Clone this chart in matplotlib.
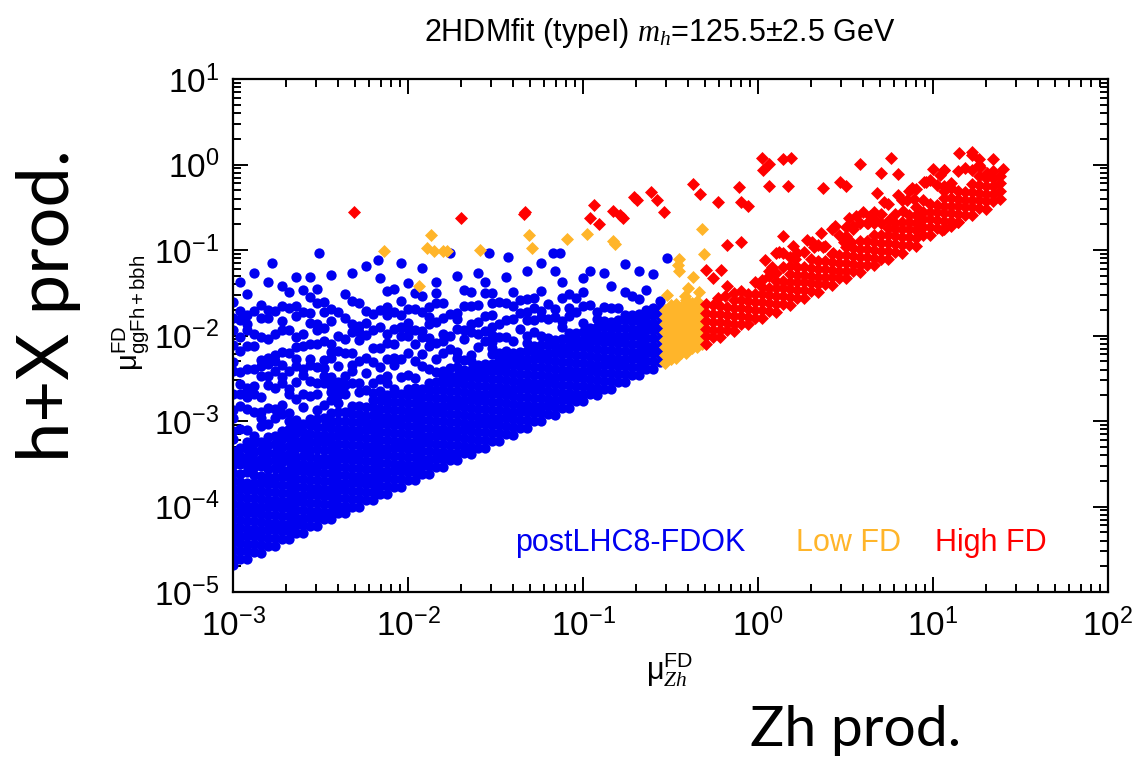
import numpy as np
import matplotlib
matplotlib.use('Agg')
import matplotlib.pyplot as plt
from matplotlib.ticker import LogLocator, NullFormatter

plt.rcParams['font.family'] = ['Liberation Sans', 'DejaVu Sans']
plt.rcParams['mathtext.fontset'] = 'custom'
plt.rcParams['mathtext.rm'] = 'Liberation Sans'
plt.rcParams['mathtext.it'] = 'Liberation Serif:italic'
plt.rcParams['mathtext.bf'] = 'Liberation Sans:bold'

# all values are log10(mu)
# postLHC8-FDOK (blue)
blue_log_zh = [-3.00, -2.96, -2.92, -2.88, -2.84, -2.80, -2.76, -2.72, -2.68, -2.64,
               -2.60, -2.56, -2.52, -2.48, -2.44, -2.40, -2.36, -2.32, -2.28, -2.24,
               -2.20, -2.16, -2.12, -2.08, -2.04, -2.00, -1.96, -1.92, -1.88, -1.84,
               -1.80, -1.76, -1.72, -1.68, -1.64, -1.60, -1.56, -1.52, -1.48, -1.44,
               -1.40, -1.36, -1.32, -1.28, -1.24, -1.20, -1.16, -1.12, -1.08, -1.04,
               -1.00, -0.96, -0.92, -0.88, -0.84, -0.80, -0.76, -0.72, -0.68, -0.64,
               -0.60, -0.56]
blue_log_gg = [
    [-4.69, -4.60, -4.51, -4.42, -4.33, -4.24, -4.15, -4.06, -3.97, -3.88, -3.79, -3.70, -3.61, -3.52, -3.43, -3.35, -3.21, -3.12, -2.96, -2.87, -2.69, -2.42, -2.31, -2.11, -1.93, -1.79, -1.61],
    [-4.61, -4.52, -4.43, -4.34, -4.25, -4.16, -4.07, -3.98, -3.89, -3.80, -3.71, -3.62, -3.50, -3.41, -3.31, -3.09, -2.82, -2.68, -2.57, -2.43, -2.18, -2.02, -1.82, -1.71, -1.38],
    [-4.61, -4.52, -4.44, -4.35, -4.26, -4.17, -4.08, -3.99, -3.90, -3.81, -3.72, -3.60, -3.52, -3.43, -3.33, -3.25, -3.11, -2.86, -2.72, -2.61, -2.39, -2.12, -1.94, -1.87, -1.76, -1.51],
    [-4.53, -4.44, -4.35, -4.26, -4.17, -4.08, -3.99, -3.90, -3.81, -3.72, -3.63, -3.54, -3.46, -3.36, -3.26, -3.17, -2.90, -2.68, -2.59, -2.39, -2.12, -1.98, -1.71, -1.27],
    [-4.54, -4.45, -4.36, -4.27, -4.18, -4.09, -4.00, -3.91, -3.82, -3.73, -3.64, -3.53, -3.44, -3.34, -3.24, -3.06, -2.97, -2.90, -2.72, -2.47, -2.36, -2.29, -2.02, -1.80, -1.64],
    [-4.46, -4.37, -4.28, -4.19, -4.10, -4.01, -3.92, -3.83, -3.74, -3.65, -3.56, -3.47, -3.37, -3.28, -3.19, -3.03, -2.85, -2.58, -2.47, -2.33, -2.26, -2.04, -1.79, -1.70, -1.37],
    [-4.46, -4.37, -4.28, -4.19, -4.10, -4.01, -3.92, -3.83, -3.74, -3.65, -3.55, -3.46, -3.38, -3.27, -3.17, -2.97, -2.86, -2.61, -2.41, -2.30, -2.23, -1.98, -1.71],
    [-4.38, -4.29, -4.20, -4.11, -4.02, -3.93, -3.84, -3.75, -3.66, -3.57, -3.48, -3.40, -3.30, -3.21, -3.12, -2.92, -2.81, -2.56, -2.49, -2.35, -2.19, -1.94, -1.83, -1.65, -1.42],
    [-4.38, -4.29, -4.20, -4.11, -4.02, -3.93, -3.84, -3.75, -3.66, -3.57, -3.47, -3.39, -3.29, -3.19, -3.09, -3.00, -2.91, -2.69, -2.62, -2.42, -2.20, -1.93, -1.68, -1.49],
    [-4.31, -4.22, -4.13, -4.04, -3.95, -3.86, -3.77, -3.68, -3.59, -3.50, -3.42, -3.32, -3.24, -3.14, -3.06, -2.99, -2.74, -2.54, -2.36, -2.27, -2.13, -2.02, -1.77, -1.66, -1.31],
    [-4.31, -4.22, -4.13, -4.04, -3.95, -3.86, -3.77, -3.68, -3.59, -3.50, -3.41, -3.31, -3.22, -3.13, -3.04, -2.84, -2.68, -2.46, -2.39, -2.12, -1.98, -1.73, -1.47],
    [-4.23, -4.14, -4.05, -3.96, -3.87, -3.78, -3.69, -3.60, -3.51, -3.42, -3.34, -3.24, -3.15, -3.05, -2.98, -2.71, -2.53, -2.35, -2.28, -2.10, -1.85, -1.74, -1.55, -1.32],
    [-4.23, -4.14, -4.05, -3.96, -3.87, -3.78, -3.69, -3.60, -3.51, -3.43, -3.33, -3.24, -3.16, -3.07, -2.98, -2.87, -2.69, -2.55, -2.37, -2.10, -1.94, -1.87, -1.62, -1.46],
    [-4.15, -4.06, -3.97, -3.88, -3.79, -3.70, -3.61, -3.52, -3.43, -3.34, -3.25, -3.16, -3.07, -2.97, -2.81, -2.56, -2.47, -2.38, -2.29, -2.07, -1.91, -1.73, -1.61],
    [-4.15, -4.06, -3.97, -3.88, -3.79, -3.70, -3.61, -3.52, -3.43, -3.34, -3.26, -3.17, -3.08, -3.00, -2.91, -2.75, -2.66, -2.59, -2.48, -2.26, -2.19, -2.10, -1.83, -1.69, -1.29],
    [-4.08, -3.99, -3.90, -3.81, -3.72, -3.63, -3.54, -3.45, -3.36, -3.27, -3.18, -3.09, -3.00, -2.90, -2.79, -2.70, -2.61, -2.54, -2.36, -2.18, -2.00, -1.73],
    [-4.08, -3.99, -3.90, -3.81, -3.72, -3.63, -3.54, -3.45, -3.36, -3.27, -3.18, -3.09, -3.00, -2.89, -2.69, -2.58, -2.47, -2.20, -2.04, -1.79, -1.52],
    [-4.00, -3.91, -3.82, -3.73, -3.64, -3.55, -3.46, -3.37, -3.28, -3.19, -3.10, -3.01, -2.92, -2.83, -2.56, -2.42, -2.35, -2.21, -1.96, -1.87, -1.60, -1.27],
    [-4.00, -3.91, -3.82, -3.73, -3.64, -3.55, -3.46, -3.37, -3.28, -3.19, -3.10, -3.01, -2.92, -2.82, -2.66, -2.55, -2.30, -2.05, -1.96, -1.89, -1.62],
    [-3.92, -3.83, -3.74, -3.65, -3.56, -3.47, -3.38, -3.29, -3.20, -3.11, -3.02, -2.94, -2.84, -2.64, -2.44, -2.26, -1.99, -1.85, -1.71, -1.19],
    [-3.92, -3.83, -3.74, -3.65, -3.56, -3.47, -3.38, -3.29, -3.20, -3.11, -3.02, -2.93, -2.84, -2.76, -2.67, -2.56, -2.31, -2.15, -1.93, -1.75],
    [-3.85, -3.76, -3.67, -3.58, -3.49, -3.40, -3.31, -3.22, -3.13, -3.04, -2.95, -2.86, -2.76, -2.65, -2.51, -2.37, -2.15, -1.90, -1.70, -1.33],
    [-3.85, -3.76, -3.67, -3.58, -3.49, -3.40, -3.31, -3.22, -3.13, -3.04, -2.95, -2.86, -2.78, -2.70, -2.56, -2.47, -2.27, -2.09, -1.98, -1.76, -1.67, -1.48],
    [-3.77, -3.68, -3.59, -3.50, -3.41, -3.32, -3.23, -3.14, -3.05, -2.96, -2.87, -2.78, -2.69, -2.62, -2.35, -2.26, -2.10, -1.92, -1.72, -1.46],
    [-3.77, -3.68, -3.59, -3.50, -3.41, -3.32, -3.23, -3.14, -3.05, -2.96, -2.87, -2.78, -2.68, -2.48, -2.28, -2.01, -1.90, -1.76, -1.60],
    [-3.69, -3.60, -3.51, -3.42, -3.33, -3.24, -3.15, -3.06, -2.97, -2.88, -2.79, -2.70, -2.62, -2.46, -2.21, -2.01, -1.92, -1.85, -1.69, -1.39],
    [-3.69, -3.60, -3.51, -3.42, -3.33, -3.24, -3.15, -3.06, -2.97, -2.88, -2.79, -2.70, -2.61, -2.50, -2.30, -2.10, -1.94, -1.69, -1.50],
    [-3.62, -3.53, -3.44, -3.35, -3.26, -3.17, -3.08, -2.99, -2.90, -2.81, -2.72, -2.63, -2.36, -2.22, -2.02, -1.95, -1.73, -1.54, -1.21],
    [-3.62, -3.53, -3.44, -3.35, -3.26, -3.17, -3.08, -2.99, -2.90, -2.81, -2.72, -2.64, -2.55, -2.39, -2.12, -2.03, -1.87, -1.78, -1.67],
    [-3.54, -3.45, -3.36, -3.27, -3.18, -3.09, -3.00, -2.91, -2.82, -2.73, -2.64, -2.54, -2.43, -2.27, -2.09, -1.84, -1.62, -1.50, -1.38],
    [-3.54, -3.45, -3.36, -3.27, -3.18, -3.09, -3.00, -2.91, -2.82, -2.73, -2.64, -2.55, -2.48, -2.41, -2.21, -2.07, -1.98, -1.80, -1.62],
    [-3.46, -3.37, -3.28, -3.19, -3.10, -3.01, -2.92, -2.83, -2.74, -2.65, -2.56, -2.47, -2.38, -2.16, -2.00, -1.75],
    [-3.46, -3.37, -3.28, -3.19, -3.10, -3.01, -2.92, -2.83, -2.74, -2.65, -2.56, -2.47, -2.37, -2.26, -2.19, -1.92, -1.81, -1.74, -1.30],
    [-3.38, -3.29, -3.20, -3.11, -3.02, -2.93, -2.84, -2.75, -2.66, -2.57, -2.48, -2.40, -2.29, -2.04, -1.93, -1.66, -1.47],
    [-3.39, -3.30, -3.21, -3.12, -3.03, -2.94, -2.85, -2.76, -2.67, -2.58, -2.49, -2.40, -2.30, -2.23, -1.96, -1.87, -1.65, -1.49],
    [-3.31, -3.22, -3.13, -3.04, -2.95, -2.86, -2.77, -2.68, -2.59, -2.50, -2.41, -2.34, -2.14, -1.98, -1.84, -1.64, -1.27],
    [-3.31, -3.22, -3.13, -3.04, -2.95, -2.86, -2.77, -2.68, -2.59, -2.50, -2.42, -2.33, -2.06, -1.95, -1.77, -1.50, -1.38],
    [-3.23, -3.14, -3.05, -2.96, -2.87, -2.78, -2.69, -2.60, -2.51, -2.42, -2.33, -2.22, -2.15, -2.08, -1.99, -1.90, -1.76, -1.62, -1.50],
    [-3.23, -3.14, -3.05, -2.96, -2.87, -2.78, -2.69, -2.60, -2.51, -2.42, -2.35, -2.27, -2.20, -2.02, -1.86, -1.61],
    [-3.15, -3.06, -2.97, -2.88, -2.79, -2.70, -2.61, -2.52, -2.43, -2.34, -2.25, -2.18, -2.02, -1.82, -1.62, -1.32],
    [-3.16, -3.07, -2.98, -2.89, -2.80, -2.71, -2.62, -2.53, -2.44, -2.35, -2.27, -2.20, -2.06, -1.81, -1.65, -1.49],
    [-3.08, -2.99, -2.90, -2.81, -2.72, -2.63, -2.54, -2.45, -2.36, -2.28, -2.19, -1.92, -1.74, -1.58],
    [-3.08, -2.99, -2.90, -2.81, -2.72, -2.63, -2.54, -2.45, -2.36, -2.27, -2.18, -2.09, -2.00, -1.82, -1.73, -1.57, -1.24],
    [-3.00, -2.91, -2.82, -2.73, -2.64, -2.55, -2.46, -2.37, -2.28, -2.19, -2.12, -1.96, -1.82, -1.68, -1.56],
    [-3.00, -2.91, -2.82, -2.73, -2.64, -2.55, -2.46, -2.37, -2.28, -2.20, -2.11, -2.00, -1.78, -1.71, -1.48, -1.15],
    [-2.92, -2.83, -2.74, -2.65, -2.56, -2.47, -2.38, -2.29, -2.20, -2.11, -2.03, -1.81, -1.63],
    [-2.93, -2.84, -2.75, -2.66, -2.57, -2.48, -2.39, -2.30, -2.21, -2.12, -2.05, -1.78, -1.69, -1.25],
    [-2.85, -2.76, -2.67, -2.58, -2.49, -2.40, -2.31, -2.22, -2.13, -2.04, -1.90, -1.83, -1.56, -1.37],
    [-2.85, -2.76, -2.67, -2.58, -2.49, -2.40, -2.31, -2.22, -2.13, -2.05, -1.97, -1.77, -1.68, -1.52],
    [-2.77, -2.68, -2.59, -2.50, -2.41, -2.32, -2.23, -2.14, -2.05, -1.97, -1.72, -1.56],
    [-2.77, -2.68, -2.59, -2.50, -2.41, -2.32, -2.23, -2.14, -2.05, -1.96, -1.85, -1.65, -1.49, -1.33],
    [-2.69, -2.60, -2.51, -2.42, -2.33, -2.24, -2.15, -2.06, -1.98, -1.91, -1.64, -1.25],
    [-2.70, -2.61, -2.52, -2.43, -2.34, -2.25, -2.16, -2.07, -1.98, -1.90, -1.81, -1.72],
    [-2.62, -2.53, -2.44, -2.35, -2.26, -2.17, -2.08, -1.99, -1.90, -1.83, -1.67, -1.27],
    [-2.62, -2.53, -2.44, -2.35, -2.26, -2.17, -2.08, -1.99, -1.91, -1.84, -1.68, -1.42],
    [-2.54, -2.45, -2.36, -2.27, -2.18, -2.09, -2.00, -1.91, -1.82, -1.68],
    [-2.54, -2.45, -2.36, -2.27, -2.18, -2.09, -2.00, -1.91, -1.82, -1.76, -1.49, -1.16],
    [-2.46, -2.37, -2.28, -2.19, -2.10, -2.01, -1.92, -1.83, -1.76, -1.54],
    [-2.46, -2.37, -2.28, -2.19, -2.10, -2.01, -1.92, -1.83, -1.75, -1.57, -1.24],
    [-2.39, -2.30, -2.21, -2.12, -2.03, -1.94, -1.85, -1.77, -1.70, -1.47],
    [-2.39, -2.30, -2.21, -2.12, -2.03, -1.94, -1.85, -1.76, -1.68, -1.28],
    [-2.31, -2.22, -2.13, -2.04, -1.95, -1.86, -1.77, -1.69, -1.60],
]
# isolated blue points near the top
blue_top_log_zh = [-2.78, -2.51, -2.17, -2.04, -1.76, -1.54, -1.43, -1.17, -1.13, -0.52]
blue_top_log_gg = [-1.15, -1.04, -1.12, -1.15, -1.03, -1.03, -1.08, -1.03, -1.03, -1.09]

# Low FD (orange)
orange_log_zh = [-0.53, -0.50, -0.47, -0.44, -0.41, -0.38, -0.35, -0.32]
orange_log_gg = [
    [-2.32, -2.23, -2.14, -2.05, -1.96, -1.87, -1.78, -1.70],
    [-2.27, -2.18, -2.09, -2.00, -1.91, -1.82, -1.73, -1.64],
    [-2.26, -2.17, -2.08, -1.99, -1.90, -1.81, -1.72, -1.63],
    [-2.21, -2.12, -2.03, -1.94, -1.85, -1.76, -1.67],
    [-2.20, -2.11, -2.02, -1.93, -1.84, -1.75, -1.66, -1.59],
    [-2.15, -2.06, -1.97, -1.88, -1.79, -1.70, -1.62],
    [-2.14, -2.05, -1.96, -1.87, -1.78, -1.69, -1.60],
    [-2.10, -2.01, -1.92, -1.83, -1.74, -1.66],
]
orange_top_log_zh = [-1.87, -2.14, -1.89, -1.85, -1.80, -1.78, -1.59, -1.31, -1.29, -1.09,
                     -0.98, -0.83, -0.82, -1.94, -0.32, -0.31, -0.45, -0.45, -0.37, -0.40,
                     -0.34, -0.42, -0.52, -0.46]
orange_top_log_gg = [-0.83, -1.01, -0.98, -1.01, -1.01, -1.01, -1.00, -0.82, -0.98, -0.87,
                     -0.81, -0.89, -0.93, -1.42, -0.76, -1.05, -1.11, -1.25, -1.31, -1.44,
                     -1.49, -1.54, -1.53, -1.18]

# High FD (red)
red_log_zh = [-0.30, -0.26, -0.22, -0.18, -0.14, -0.10, -0.06, -0.02, 0.02, 0.06,
              0.10, 0.14, 0.18, 0.22, 0.26, 0.30, 0.34, 0.38, 0.42, 0.46,
              0.50, 0.54, 0.58, 0.62, 0.66, 0.70, 0.74, 0.78, 0.82, 0.86,
              0.90, 0.94, 0.98, 1.02, 1.06, 1.10, 1.14, 1.18, 1.22, 1.26,
              1.30, 1.34, 1.38]
red_log_gg = [
    [-2.10, -2.01, -1.92, -1.83, -1.74, -1.63],
    [-2.02, -1.93, -1.84, -1.75, -1.64],
    [-2.02, -1.93, -1.84, -1.75, -1.66],
    [-1.94, -1.85, -1.76, -1.67],
    [-1.95, -1.86, -1.77, -1.68, -1.59, -1.50],
    [-1.86, -1.77, -1.68, -1.59, -1.48],
    [-1.87, -1.78, -1.69, -1.60, -1.51],
    [-1.79, -1.70, -1.61, -1.52, -1.38],
    [-1.79, -1.70, -1.61, -1.52, -1.43, -1.35],
    [-1.71, -1.62, -1.53, -1.44, -1.30, -1.24],
    [-1.72, -1.63, -1.54, -1.45, -1.36, -1.27],
    [-1.63, -1.54, -1.45, -1.36, -1.20],
    [-1.64, -1.55, -1.46, -1.37, -1.28, -1.19, -1.08],
    [-1.56, -1.47, -1.38, -1.29, -1.20, -1.04],
    [-1.56, -1.47, -1.38, -1.29, -1.20, -1.02],
    [-1.48, -1.39, -1.30, -1.21, -1.10],
    [-1.49, -1.40, -1.31, -1.22, -1.13, -0.94],
    [-1.40, -1.31, -1.22, -1.13, -0.95],
    [-1.41, -1.32, -1.23, -1.14, -1.05],
    [-1.33, -1.24, -1.15, -1.06, -0.82],
    [-1.33, -1.24, -1.15, -1.06, -0.97, -0.84, -0.73],
    [-1.25, -1.16, -1.07, -0.98, -0.72],
    [-1.26, -1.17, -1.08, -0.99, -0.90, -0.69],
    [-1.17, -1.08, -0.99, -0.90, -0.69],
    [-1.18, -1.09, -1.00, -0.91, -0.82, -0.68, -0.55],
    [-1.10, -1.01, -0.92, -0.83, -0.69, -0.58],
    [-1.10, -1.01, -0.92, -0.83, -0.74, -0.46],
    [-1.02, -0.93, -0.84, -0.75, -0.69, -0.58],
    [-1.03, -0.94, -0.85, -0.76, -0.67, -0.41],
    [-0.94, -0.85, -0.76, -0.67, -0.59, -0.31],
    [-0.95, -0.86, -0.77, -0.68, -0.59, -0.50, -0.29],
    [-0.82, -0.73, -0.64, -0.55, -0.41],
    [-0.82, -0.73, -0.64, -0.55, -0.46, -0.18],
    [-0.74, -0.65, -0.56, -0.47, -0.24],
    [-0.75, -0.66, -0.57, -0.48, -0.39, -0.31, -0.25, -0.06],
    [-0.66, -0.57, -0.48, -0.39, -0.28, -0.22],
    [-0.67, -0.58, -0.49, -0.40, -0.31, -0.08],
    [-0.59, -0.50, -0.41, -0.32, -0.04],
    [-0.59, -0.50, -0.41, -0.32, -0.23, -0.07, 0.11],
    [-0.51, -0.42, -0.33, -0.24, -0.13, 0.00, 0.06],
    [-0.52, -0.43, -0.34, -0.25, -0.16],
    [-0.43, -0.34, -0.25, -0.16, -0.08],
    [-0.40, -0.31, -0.22, -0.13],
]
red_top_log_zh = [-2.31, -1.70, -1.34, -1.33, -0.94, -0.96, -0.91, -0.83, -0.79, -0.77,
                  -0.71, -0.69, -0.61, -0.58, -0.54, -0.37, -0.33, -0.23, -0.11, -0.10,
                  -0.06, 0.02, 0.03, 0.06, 0.14, 0.19, 0.06, 0.17, -0.18, -0.10,
                  0.14, 0.10, 0.14, 0.21, -0.30, -0.26, -0.21, -0.18, -0.23, -0.19,
                  0.58, 0.37, 0.47, 0.50, 0.70, 0.76, 0.80, 0.68, 0.95, 1.00,
                  1.06, 1.15, 1.22, 1.34, 1.40, 1.31, 1.27, 0.85, 0.89, 0.83,
                  0.56, 0.42, 0.54, 0.31, 0.37, 0.43, 0.49, 0.53, 0.63, 0.67,
                  0.75, 1.14, 1.10, 1.05,
                  0.04, 0.12, 0.20, 0.28, 0.36, 0.44, 0.52, 0.60, 0.72, 0.80,
                  0.88, 0.96, 1.04, 0.08, 0.32, 0.64]
red_top_log_gg = [-0.56, -0.63, -0.58, -0.55, -0.47, -0.62, -0.70, -0.54, -0.59, -0.63,
                  -0.38, -0.42, -0.32, -0.41, -0.56, -0.23, -0.35, -0.44, -0.26, -0.44,
                  -0.48, 0.08, -0.06, 0.01, 0.07, 0.08, -0.25, -0.25, -0.94, -0.91,
                  -0.84, -1.04, -1.04, -1.10, -1.23, -1.33, -1.23, -1.42, -1.56, -1.54,
                  0.01, -0.28, -0.21, -0.25, -0.10, 0.08, -0.11, -0.33, -0.20, -0.05,
                  -0.07, 0.14, 0.15, 0.06, -0.05, -0.10, -0.03, -0.41, -0.40, -0.54,
                  -0.60, -0.75, -0.75, -0.91, -0.97, -1.03, -0.91, -0.91, -0.68, -0.65,
                  -0.65, -0.67, -0.72, -0.77,
                  -1.12, -1.02, -0.95, -0.88, -0.80, -0.72, -0.62, -0.55, -0.44, -0.36,
                  -0.28, -0.20, -0.12, -1.20, -0.96, -0.60]

x_ticks = [1e-3, 1e-2, 1e-1, 1e0, 1e1, 1e2]
x_tick_labels = ['-3', '-2', '-1', '0', '1', '2']
y_ticks = [1e-5, 1e-4, 1e-3, 1e-2, 1e-1, 1e0, 1e1]
y_tick_labels = ['-5', '-4', '-3', '-2', '-1', '0', '1']


def expand(cols_x, cols_y):
    xs, ys = [], []
    for cx, col in zip(cols_x, cols_y):
        xs += [cx] * len(col)
        ys += col
    return 10 ** np.array(xs), 10 ** np.array(ys)


fig = plt.figure(figsize=(11.35, 7.59), dpi=100)
ax = fig.add_axes([233 / 1135, 1 - 592 / 759, 875 / 1135, 513 / 759])

blue = '#0000f0'
orange = '#ffb52a'
red = '#ff0000'
dot_size = 55
diamond_size = 44

bx, by = expand(blue_log_zh, blue_log_gg)
ax.scatter(bx, by, s=dot_size, c=blue, marker='o', linewidths=0, zorder=2)
ax.scatter(10 ** np.array(blue_top_log_zh), 10 ** np.array(blue_top_log_gg),
           s=dot_size, c=blue, marker='o', linewidths=0, zorder=2)

ox, oy = expand(orange_log_zh, orange_log_gg)
ax.scatter(ox, oy, s=diamond_size, c=orange, marker='D', linewidths=0, zorder=3)
ax.scatter(10 ** np.array(orange_top_log_zh), 10 ** np.array(orange_top_log_gg),
           s=diamond_size, c=orange, marker='D', linewidths=0, zorder=3)

rx, ry = expand(red_log_zh, red_log_gg)
ax.scatter(rx, ry, s=diamond_size, c=red, marker='D', linewidths=0, zorder=4)
ax.scatter(10 ** np.array(red_top_log_zh), 10 ** np.array(red_top_log_gg),
           s=diamond_size, c=red, marker='D', linewidths=0, zorder=4)

ax.set_xscale('log')
ax.set_yscale('log')
ax.set_xlim(1e-3, 1e2)
ax.set_ylim(1e-5, 1e1)

ax.set_xticks(x_ticks)
ax.set_xticklabels([r'$\mathregular{10^{%s}}$' % t for t in x_tick_labels])
ax.set_yticks(y_ticks)
ax.set_yticklabels([r'$\mathregular{10^{%s}}$' % t for t in y_tick_labels])
ax.xaxis.set_minor_locator(LogLocator(base=10, subs=np.arange(2, 10), numticks=20))
ax.yaxis.set_minor_locator(LogLocator(base=10, subs=np.arange(2, 10), numticks=20))
ax.xaxis.set_minor_formatter(NullFormatter())
ax.yaxis.set_minor_formatter(NullFormatter())

ax.tick_params(which='both', direction='in', top=True, right=True, width=1.4, colors='black')
ax.tick_params(which='major', length=11, labelsize=24)
ax.tick_params(axis='x', which='major', pad=12)
ax.tick_params(axis='y', which='major', pad=10)
ax.tick_params(which='minor', length=5.5)
for sp in ax.spines.values():
    sp.set_linewidth(1.6)

fig.text(0.5815, 0.957, r'2HDMfit (typeI) $m_h$=125.5$\pm$2.5 GeV', fontsize=22,
         ha='center', va='center')
fig.text(0.590, 0.118, r'$\mathregular{μ}^{\mathregular{FD}}_{Zh}$', fontsize=22,
         ha='center', va='center')
fig.text(0.115, 0.588, r'$\mathregular{μ^{FD}_{ggFh+bbh}}$', fontsize=21,
         ha='center', va='center', rotation=90)

ax.text(0.322, 0.096, 'postLHC8-FDOK', color=blue, fontsize=22, transform=ax.transAxes,
        ha='left', va='center')
ax.text(0.643, 0.096, 'Low FD', color=orange, fontsize=22, transform=ax.transAxes,
        ha='left', va='center')
ax.text(0.802, 0.096, 'High FD', color=red, fontsize=22, transform=ax.transAxes,
        ha='left', va='center')

fig.text(0.043, 0.598, 'h+X prod.', fontsize=52, family='Lato', rotation=90,
         ha='center', va='center')
fig.text(0.754, 1 - 746 / 759, 'Zh prod.', fontsize=41, family='Lato',
         ha='center', va='baseline')

fig.savefig('out.png', dpi=100)
